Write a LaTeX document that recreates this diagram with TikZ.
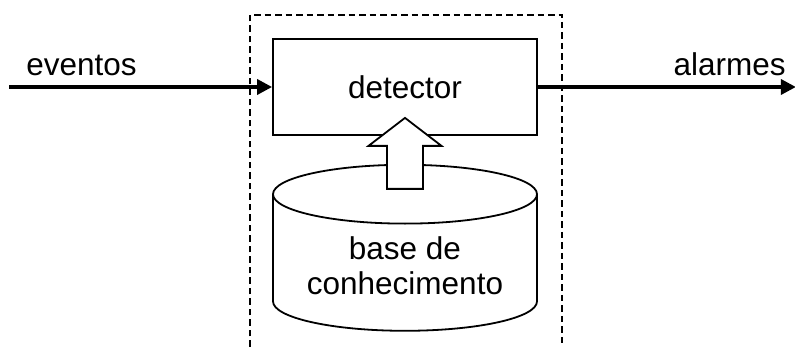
\documentclass[tikz,border=0pt]{standalone}
\usepackage{fontspec}
\setmainfont{Liberation Sans}
\usetikzlibrary{positioning,arrows.meta,shapes.geometric,calc}

\begin{document}
\begin{tikzpicture}[x=1pt,y=1pt,font=\fontsize{31.5}{35}\selectfont,node distance=28pt,
  box/.style={draw,line width=1.8pt,minimum width=264pt,minimum height=96pt},
  store/.style={cylinder,shape border rotate=90,draw,line width=1.8pt,fill=white,
    aspect=0.29,minimum width=264pt,minimum height=166pt,align=center},
  tag/.style={inner sep=0pt},
  flow/.style={line width=3.5pt,-{Triangle[length=15pt,width=15pt]}},
  hollow/.style={draw,line width=1.8pt,fill=white,line join=miter}]
\useasboundingbox (0,0) rectangle (795,347);
\draw[dash pattern=on 6.5pt off 4pt,line width=1.1pt] (250,0) -- (250,332) -- (562,332) -- (562,0);
\node[box] (det) at (405,260) {detector};
\node[store,below=of det] (kb) {base de\\conhecimento};
\coordinate (in) at ([xshift=-263pt]det.west);
\coordinate (out) at ([xshift=258pt]det.east);
\node[tag,anchor=base west] (ev) at ([shift={(17,11)}]in) {eventos};
\node[tag,anchor=base east] (al) at ([shift={(-10,11)}]out) {alarmes};
\draw[flow] (in) -- (det);
\draw[flow] (det) -- (out);
\draw[hollow] ($(kb.north)+(-18,-25)$) -- ++(0,43) -- ++(-18.5,0) -- ($(det.south)+(0,18)$)
  -- ++(36.5,-28) -- ++(-18.5,0) -- ++(0,-43) -- cycle;
\end{tikzpicture}
\end{document}
